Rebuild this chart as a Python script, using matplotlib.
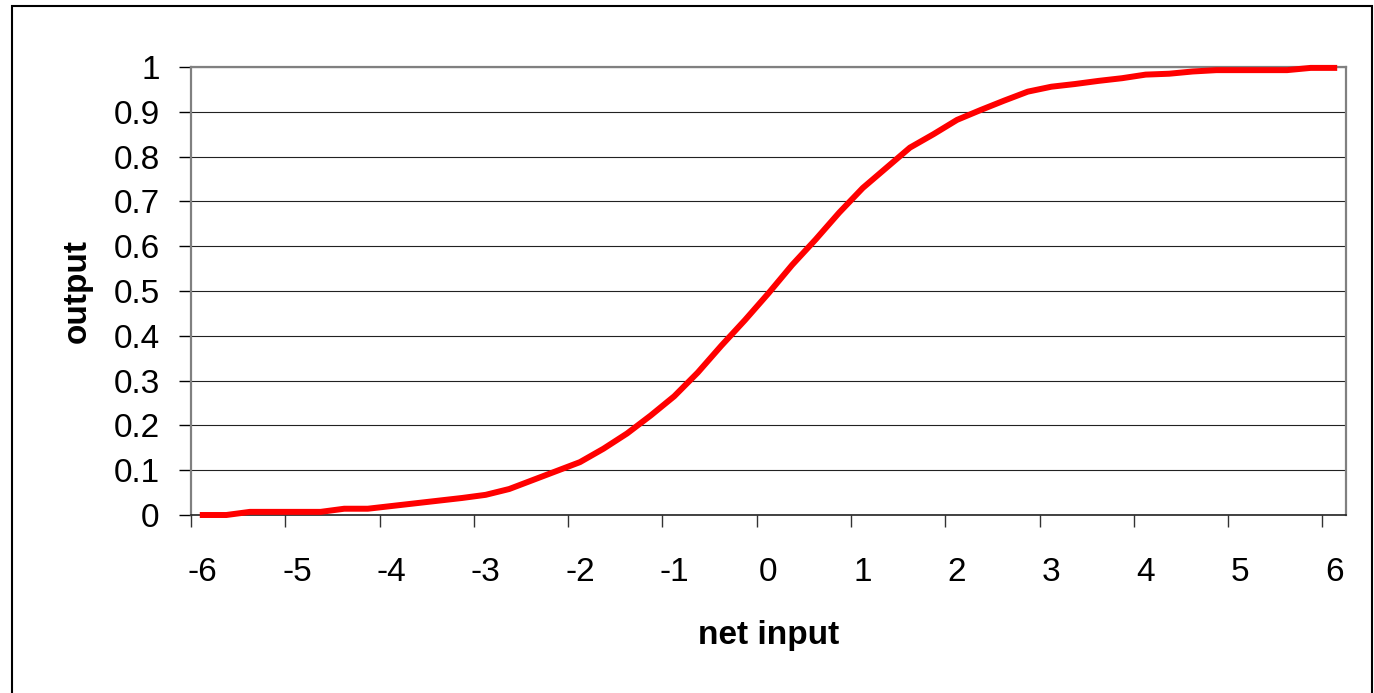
import matplotlib
matplotlib.use("Agg")
import matplotlib.pyplot as plt
from matplotlib.patches import Rectangle

# Category labels (every 4th category gets a label)
net_input = [-6 + 0.25 * i for i in range(49)]
x_labels = ["-6", "-5", "-4", "-3", "-2", "-1", "0", "1", "2", "3", "4", "5", "6"]
y_labels = ["0", "0.1", "0.2", "0.3", "0.4", "0.5", "0.6", "0.7", "0.8", "0.9", "1"]

# Output values, one per category
output = [0.0, 0.0, 0.007, 0.007, 0.007, 0.007, 0.014, 0.014,
          0.02, 0.026, 0.032, 0.038, 0.045, 0.058, 0.078, 0.098,
          0.118, 0.148, 0.182, 0.222, 0.265, 0.318, 0.378, 0.435,
          0.495, 0.558, 0.615, 0.675, 0.73, 0.775, 0.82, 0.85,
          0.882, 0.904, 0.925, 0.945, 0.956, 0.962, 0.969, 0.975,
          0.983, 0.985, 0.99, 0.993, 0.993, 0.993, 0.993, 0.998, 0.998]

plt.rcParams['font.family'] = ['Liberation Sans', 'DejaVu Sans']

fig = plt.figure(figsize=(13.74, 6.93), dpi=100)
ax = fig.add_axes([191 / 1374, 178 / 693, 1155 / 1374, 448 / 693])

# outer chart border
fig.patches.append(Rectangle((12 / 1374, -0.02), 1360 / 1374, 1 - 6 / 693 + 0.02,
                             transform=fig.transFigure, fill=False,
                             edgecolor="black", linewidth=1.5))

cats = list(range(len(output)))
ax.plot(cats, output, color="#FF0000", linewidth=4.3, solid_joinstyle="round",
        zorder=3, clip_on=False)

ax.set_xlim(-0.5, len(output) - 0.5)
ax.set_ylim(0, 1)

# tick marks at category boundaries, labels at category centres
ax.set_xticks([-0.5 + 4 * k for k in range(13)])
ax.set_xticklabels([])
ax.set_xticks([4 * k for k in range(13)], x_labels, minor=True)
ax.tick_params(axis="x", which="major", direction="out", length=8.5, width=1, color="#333333")
ax.tick_params(axis="x", which="minor", length=0, pad=30, labelsize=24)

ax.set_yticks([k / 10 for k in range(11)], y_labels)
ax.tick_params(axis="y", direction="out", length=8.5, width=1, pad=14, labelsize=24)

ax.yaxis.grid(True, color="#222222", linewidth=0.8)
ax.set_axisbelow(True)

for side in ["top", "right", "left"]:
    ax.spines[side].set_color("#808080")
    ax.spines[side].set_linewidth(1.6)
ax.spines["bottom"].set_color("#222222")
ax.spines["bottom"].set_linewidth(1.2)

ax.set_xlabel("net input", fontsize=24, fontweight="bold", labelpad=23)
ax.set_ylabel("output", fontsize=24, fontweight="bold", labelpad=15)

fig.savefig("out.png", dpi=100)
